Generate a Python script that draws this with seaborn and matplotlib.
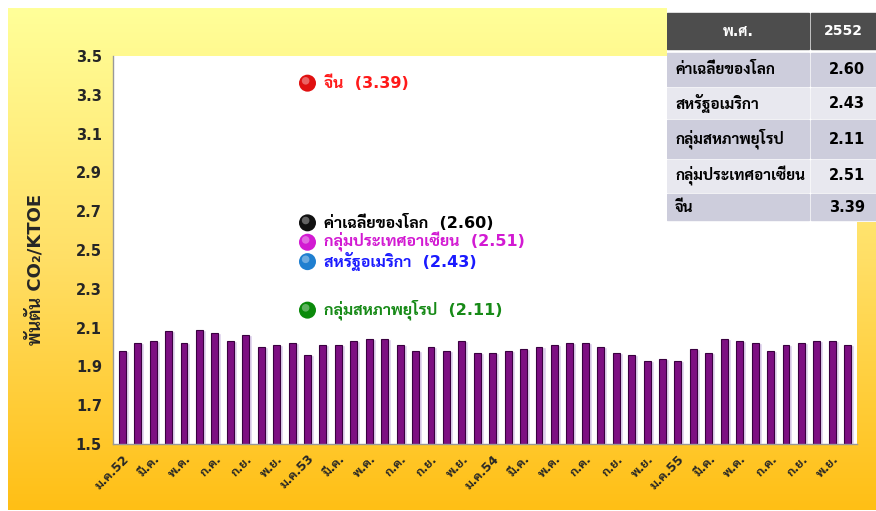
import numpy as np
import pandas as pd
import matplotlib
matplotlib.use("Agg")
import matplotlib.pyplot as plt
from matplotlib import font_manager, ft2font
import seaborn as sns

# --- pick an installed Thai font that has a real bold face ---
thai_styles = set()
for path in font_manager.findSystemFonts():
    try:
        f = ft2font.FT2Font(path)
        if 0x0E01 in f.get_charmap():
            thai_styles.add((f.family_name, f.style_name))
    except Exception:
        pass
preferred = ["Tahoma", "Noto Sans Thai", "Sarabun", "Bai Jamjuree", "Anuphan",
             "Athiti", "Kanit", "Prompt", "Mitr"]
thai_family = None
for p in preferred:
    if (p, "Bold") in thai_styles:
        thai_family = p
        break
if thai_family is None:
    bold_fams = sorted(fam for fam, st in thai_styles if st == "Bold")
    thai_family = bold_fams[0] if bold_fams else "DejaVu Sans"

# --- data ---
months = ["ม.ค.", "ก.พ.", "มี.ค.", "เม.ย.", "พ.ค.", "มิ.ย.",
          "ก.ค.", "ส.ค.", "ก.ย.", "ต.ค.", "พ.ย.", "ธ.ค."]
years = ["52", "53", "54", "55"]
intensity = [1.98, 2.02, 2.03, 2.08, 2.02, 2.09, 2.07, 2.03, 2.06, 2.00, 2.01, 2.02,
             1.96, 2.01, 2.01, 2.03, 2.04, 2.04, 2.01, 1.98, 2.00, 1.98, 2.03, 1.97,
             1.97, 1.98, 1.99, 2.00, 2.01, 2.02, 2.02, 2.00, 1.97, 1.96, 1.93, 1.94,
             1.93, 1.99, 1.97, 2.04, 2.03, 2.02, 1.98, 2.01, 2.02, 2.03, 2.03, 2.01]

regions = ["ค่าเฉลี่ยของโลก", "สหรัฐอเมริกา", "กลุ่มสหภาพยุโรป", "กลุ่มประเทศอาเซียน", "จีน"]
region_values = [2.60, 2.43, 2.11, 2.51, 3.39]
marker_level = [2.64, 2.44, 2.19, 2.54, 3.36]
marker_colors = ["#111111", "#1f7fd0", "#0b8a0b", "#d21ad2", "#e01010"]
text_colors = ["#000000", "#1a1aff", "#178a17", "#d21ad2", "#ff1a1a"]

tick_labels = []
for y in years:
    for i, m in enumerate(months):
        tick_labels.append(m + y if i == 0 else m)

df = pd.DataFrame({"pos": np.arange(len(intensity)), "value": intensity})

sns.set_theme(style="white")
plt.rcParams['font.family'] = ['DejaVu Sans', thai_family]

W, H = 876, 511
fig = plt.figure(figsize=(W / 100, H / 100), dpi=100)

# background gradient box
bg = fig.add_axes([8 / W, 1 - 510 / H, 868 / W, 502 / H], zorder=-2)
grad = np.linspace(0, 1, 256).reshape(-1, 1)
cmap = matplotlib.colors.LinearSegmentedColormap.from_list("bg", ["#ffff99", "#ffdf66", "#ffbf15"])
bg.imshow(grad, aspect="auto", cmap=cmap, extent=[0, 1, 0, 1])
bg.axis("off")

ax = fig.add_axes([113 / W, 1 - 444 / H, (857 - 113) / W, (444 - 56) / H])
ax.set_facecolor("white")

# shadow then bars
ax.bar(df["pos"] + 0.17, df["value"] - 1.5, bottom=1.5, width=0.5,
       color="#ddd0ec", zorder=1)
sns.barplot(data=df, x="pos", y="value", native_scale=True, width=0.45,
            color="#7d0f82", saturation=1, edgecolor="#3a0040", linewidth=0.8,
            ax=ax, zorder=2)
for b in ax.patches[len(intensity):]:
    b.set_y(1.5)
    b.set_height(b.get_height() - 1.5)

ax.set_xlim(-0.6, len(intensity) - 0.4)
ax.set_ylim(1.5, 3.5)
ax.set_yticks(np.arange(1.5, 3.51, 0.2))
ax.set_yticklabels([f"{v:.1f}" for v in np.arange(1.5, 3.51, 0.2)],
                   fontsize=10.5, fontweight="bold")
ax.set_xticks(df["pos"][::2])
ax.set_xticklabels(tick_labels[::2], rotation=45, ha="right",
                   rotation_mode="anchor", fontsize=9, fontweight="bold")
ax.set_xticks(df["pos"] - 0.5, minor=True)
ax.tick_params(axis="x", which="major", length=0, pad=6)
ax.tick_params(axis="x", which="minor", length=4, color="#999999", width=1, direction="out")
ax.tick_params(axis="y", length=4, color="#999999", width=1, direction="out", pad=4)
for s in ["top", "right"]:
    ax.spines[s].set_visible(False)
for s in ["left", "bottom"]:
    ax.spines[s].set_color("#999999")
    ax.spines[s].set_linewidth(1)
ax.set_xlabel("")
ax.set_ylabel("พันตัน CO₂/KTOE", fontsize=13, fontweight="bold")
ax.yaxis.set_label_coords(-0.092, 0.45)

# region markers and labels
mx = 12
for name, val, lvl, mc, tc in zip(regions, region_values, marker_level, marker_colors, text_colors):
    ax.scatter([mx], [lvl], s=150, color=mc, edgecolor="none", zorder=5, clip_on=False)
    ax.scatter([mx - 0.12], [lvl + 0.012], s=30, color="white", alpha=0.35,
               edgecolor="none", zorder=6, clip_on=False)
    ax.text(mx + 1.1, lvl, f"{name}  ({val:.2f})", color=tc, fontsize=11.5,
            fontweight="bold", va="center", ha="left", zorder=6)

# table top right
tab = fig.add_axes([667 / W, 1 - 222 / H, (876 - 667) / W, (222 - 4) / H], zorder=3)
tab.set_xlim(0, 209)
tab.set_ylim(218, 0)
tab.axis("off")
tab.add_patch(plt.Rectangle((0, 0), 209, 218, color="white"))
rows = [("พ.ศ.", "2552")] + [(r, f"{v:.2f}") for r, v in zip(regions, region_values)]
row_tops = [9, 49, 84, 116, 156, 190]
row_bots = [45, 82, 114, 154, 188, 216]
col_split = 143
for i, (lab, val) in enumerate(rows):
    y0, y1 = row_tops[i], row_bots[i]
    if i == 0:
        fc = "#4d4d4d"
        txt = "white"
    else:
        fc = "#cdcddc" if i % 2 == 1 else "#e8e8ef"
        txt = "black"
    tab.add_patch(plt.Rectangle((0, y0), col_split - 1, y1 - y0, color=fc))
    tab.add_patch(plt.Rectangle((col_split + 1, y0), 209 - col_split - 1, y1 - y0, color=fc))
    yc = (y0 + y1) / 2
    if i == 0:
        tab.text(col_split / 2, yc, lab, color=txt, fontsize=10.5, fontweight="bold", ha="center", va="center")
        tab.text((col_split + 209) / 2, yc, val, color=txt, fontsize=10, fontweight="bold", ha="center", va="center")
    else:
        tab.text(8, yc, lab, color=txt, fontsize=11, fontweight="bold", ha="left", va="center")
        tab.text(198, yc, val, color=txt, fontsize=10.5, fontweight="bold", ha="right", va="center")

fig.savefig("out.png", dpi=100)
